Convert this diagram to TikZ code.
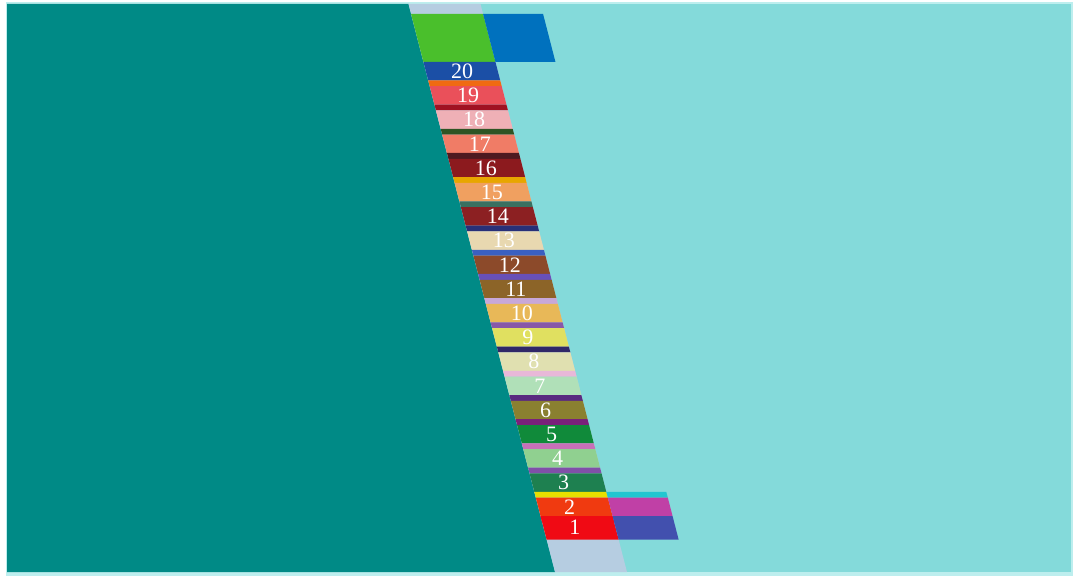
\documentclass[tikz,border=0pt]{standalone}
\usepackage{fontspec}
\setmainfont{Liberation Serif}
\definecolor{edgecyan}{HTML}{BDEEEE}
\definecolor{bgcyan}{HTML}{84DADA}
\definecolor{tealc}{HTML}{008A86}
\definecolor{steel}{HTML}{B6CDE1}
\definecolor{grn}{HTML}{4ABF2C}
\definecolor{topblue}{HTML}{0071BE}
\definecolor{rcyan}{HTML}{22C6D0}
\definecolor{rmag}{HTML}{C040A6}
\definecolor{rblue}{HTML}{4250AE}
\definecolor{b20}{HTML}{1B4FA6}\definecolor{s20}{HTML}{F06A12}
\definecolor{b19}{HTML}{EA505A}\definecolor{s19}{HTML}{A01222}
\definecolor{b18}{HTML}{EFB0B6}\definecolor{s18}{HTML}{2E5424}
\definecolor{b17}{HTML}{F07C66}\definecolor{s17}{HTML}{4E1A20}
\definecolor{b16}{HTML}{8C1A1E}\definecolor{s16}{HTML}{E8A600}
\definecolor{b15}{HTML}{F0A060}\definecolor{s15}{HTML}{3A7060}
\definecolor{b14}{HTML}{8C2022}\definecolor{s14}{HTML}{283078}
\definecolor{b13}{HTML}{E8D8B0}\definecolor{s13}{HTML}{3A60C0}
\definecolor{b12}{HTML}{8C4A2A}\definecolor{s12}{HTML}{6850B8}
\definecolor{b11}{HTML}{8C6428}\definecolor{s11}{HTML}{C8A8D8}
\definecolor{b10}{HTML}{E8B858}\definecolor{s10}{HTML}{8858A8}
\definecolor{b9}{HTML}{E0E060}\definecolor{s9}{HTML}{302868}
\definecolor{b8}{HTML}{E0E0B0}\definecolor{s8}{HTML}{E8B8D8}
\definecolor{b7}{HTML}{B0E0B8}\definecolor{s7}{HTML}{5A2A80}
\definecolor{b6}{HTML}{8A8030}\definecolor{s6}{HTML}{7A207A}
\definecolor{b5}{HTML}{108A3A}\definecolor{s5}{HTML}{C870B8}
\definecolor{b4}{HTML}{90D090}\definecolor{s4}{HTML}{8050A8}
\definecolor{b3}{HTML}{1E8050}\definecolor{s3}{HTML}{E8E000}
\definecolor{b2}{HTML}{F03A10}
\definecolor{b1}{HTML}{F00A14}
\newcommand\slabfill[5]{\fill[#5] ({408.5+0.2579*(#1-4)+#3},#1) -- ({408.5+0.2579*(#1-4)+#4},#1) -- ({408.5+0.2579*(#2-4)+#4},#2) -- ({408.5+0.2579*(#2-4)+#3},#2) -- cycle;}
\begin{document}
\begin{tikzpicture}[x=1pt,y=-1pt,
  lbl/.style={text=white,font=\fontsize{22}{22}\selectfont,inner sep=0pt}]
\useasboundingbox (0,0) rectangle (1080,580);
\fill[white] (0,0) rectangle (1080,580);
\fill[edgecyan] (6,2.5) rectangle (1073,576);
\fill[bgcyan] (7,4) rectangle (1071,572);
\fill[tealc] (7,4) -- (408.5,4) -- (555,572) -- (7,572) -- cycle;
\slabfill{4}{572}{0}{72}{steel}
\slabfill{14}{62}{0}{72}{grn}
\slabfill{14}{62}{72}{132}{topblue}
\foreach \i/\bc/\sc in {20/b20/s20,19/b19/s19,18/b18/s18,17/b17/s17,16/b16/s16,15/b15/s15,14/b14/s14,13/b13/s13,12/b12/s12,11/b11/s11,10/b10/s10,9/b9/s9,8/b8/s8,7/b7/s7,6/b6/s6,5/b5/s5,4/b4/s4,3/b3/s3,2/b2/b1}{
  \pgfmathsetmacro\ta{62+(20-\i)*24.2}
  \pgfmathsetmacro\tb{\ta+18.4}
  \pgfmathsetmacro\tc{\ta+24.2}
  \slabfill{\ta}{\tb}{0}{72}{\bc}
  \slabfill{\tb}{\tc}{0}{72}{\sc}
  \pgfmathsetmacro\ym{(\ta+\tb)/2}
  \pgfmathsetmacro\xm{462+0.247*(\ym-71)}
  \node[lbl] (n\i) at (\xm,\ym) {\i};
}
\slabfill{516}{539.5}{0}{72}{b1}
\node[lbl] (n1) at ({462+0.247*(527.7-71)},527.7) {1};
\slabfill{491.8}{497.6}{72}{132}{rcyan}
\slabfill{497.6}{516}{72}{132}{rmag}
\slabfill{516}{539.5}{72}{132}{rblue}
\end{tikzpicture}
\end{document}
